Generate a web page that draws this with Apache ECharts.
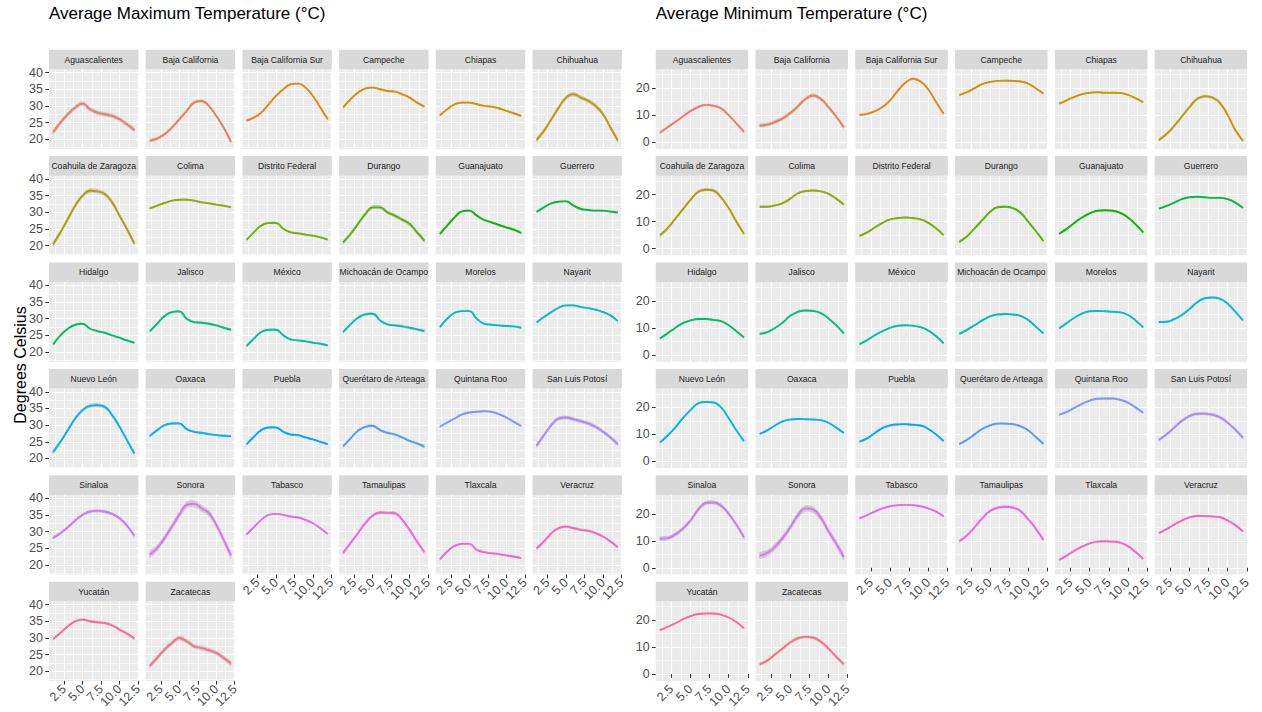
<!DOCTYPE html>
<html><head><meta charset="utf-8">
<script src="https://cdn.jsdelivr.net/npm/echarts@6/dist/echarts.min.js"></script>
<style>html,body{margin:0;padding:0;background:#fff}#c{width:1262px;height:712px}</style>
</head><body><div id="c"></div>
<script>
const states = ['Aguascalientes','Baja California','Baja California Sur','Campeche','Chiapas','Chihuahua',
 'Coahuila de Zaragoza','Colima','Distrito Federal','Durango','Guanajuato','Guerrero',
 'Hidalgo','Jalisco','México','Michoacán de Ocampo','Morelos','Nayarit',
 'Nuevo León','Oaxaca','Puebla','Querétaro de Arteaga','Quintana Roo','San Luis Potosí',
 'Sinaloa','Sonora','Tabasco','Tamaulipas','Tlaxcala','Veracruz',
 'Yucatán','Zacatecas'];
const months = [1,2,3,4,5,6,7,8,9,10,11,12];
const xTicks = [2.5,5,7.5,10,12.5];
const xMinorTicks = [1.25,3.75,6.25,8.75,11.25];
const maxYTicks = [20,25,30,35,40];
const maxYMinor = [17.5,22.5,27.5,32.5,37.5];
const minYTicks = [0,10,20];
const minYMinor = [5,15,25];

const maxTemps = [
 [22.1,25,27.5,29.5,30.7,29,28,27.5,27,26,24.5,22.8],
 [19.6,20.2,21.5,23.5,26,28.5,31,31.5,30,27,23.5,19.2],
 [25.6,26.5,28,30.5,33,35,36.5,36.7,35.5,33,29.5,26],
 [29.6,32,34,35.2,35.5,35,34.5,34.3,33.5,32.5,31,29.8],
 [27.2,29,30.5,31,31,30.5,30,29.8,29.3,28.5,27.8,27],
 [19.8,22.5,26,29.5,32.5,33.5,32.5,31.5,30,27.5,23.5,19.6],
 [20.4,24,28,32,35,36.5,36.3,35.5,33,29,25,20.6],
 [31.2,32,32.8,33.5,33.8,33.8,33.5,33,32.7,32.3,32,31.5],
 [21.7,24,26,26.8,26.8,25,24,23.7,23.3,23,22.5,21.8],
 [21,23.5,26.5,29.5,31.5,31.5,30,29,27.8,26.5,24,21.5],
 [23.5,26,28.5,30.3,30.5,29,27.7,27,26.2,25.5,24.8,23.8],
 [30.1,31.5,32.7,33.2,33.3,32,31,30.7,30.5,30.5,30.2,30],
 [22.3,25,27,28.2,28.5,27,26.3,25.8,25,24.3,23.5,22.8],
 [26.2,28.5,30.8,32,32.2,30,29,28.8,28.5,28,27.3,26.7],
 [21.8,24,26,26.7,26.7,25,23.8,23.5,23.2,22.8,22.5,22],
 [26,28.3,30.3,31.3,31.5,29.5,28.3,28,27.7,27.3,26.8,26.3],
 [27.5,30,31.8,32.3,32.3,30,28.5,28.2,28,27.8,27.7,27.3],
 [28.9,30.5,32,33.3,34,34,33.5,33.2,32.7,32,31,29.3],
 [21.9,25,28.5,32,34.5,35.8,36,35.5,33,29.5,25.5,21.5],
 [26.7,28.5,30,30.5,30.5,28.8,28,27.7,27.3,27,26.8,26.7],
 [24.2,26.5,28.5,29.3,29.3,28,27.2,27,26.3,25.7,25,24.3],
 [23.6,26,28.3,29.5,29.8,28.5,27.7,27.2,26.3,25.3,24.5,23.5],
 [29.5,30.8,32,33.2,33.8,34,34.2,34,33.3,32.3,31,29.8],
 [23.8,27,30,32,32.3,31.8,31.2,30.5,29.5,28,26.3,24.3],
 [28.1,29.5,31.3,33.3,35,36,36.2,36,35.3,34,31.8,28.7],
 [23.1,25,28,31.5,35,38,38.3,37,35.5,32,27.5,22.8],
 [29.1,31.3,33.5,35,35.3,35,34.5,34.2,33.5,32.5,31,29.3],
 [23.6,26.5,29.5,32.5,34.8,35.7,35.6,35.5,33.5,30.5,27,23.8],
 [21.6,24,25.7,26.3,26.3,24.5,23.8,23.5,23.2,22.8,22.5,22],
 [24.9,27,29.5,31,31.5,31,30.5,30.2,29.5,28.5,27,25.3],
 [29.7,31.5,33.5,35,35.5,35,34.7,34.5,33.8,32.5,31.3,29.8],
 [21.6,24,26.5,28.5,30,29,27.5,27,26.3,25.5,24,22.3]
];
const minTemps = [
 [3.5,5.5,7.5,9.5,11.5,13,13.8,13.5,12.5,10,7,3.8],
 [6.1,6.5,7.5,8.8,10.8,13.3,16,17.3,16,13,9.5,5.5],
 [10.1,10.5,11.5,13,15.5,19,22,23.5,22.5,19.5,15,10.5],
 [17.4,18.5,20,21.5,22.3,22.7,22.8,22.7,22.5,21.7,20,18],
 [14.3,15.5,16.8,17.8,18.3,18.5,18.3,18.3,18.2,17.5,16.3,14.8],
 [0.8,3,6,9.5,13,16,17,16.5,14.5,10,4.5,0.5],
 [4.9,7.5,11,14.5,18,21,21.8,21.5,19,15,10,5.5],
 [15.5,15.5,16,16.8,18.5,20.5,21.3,21.5,21.2,20.3,18.5,16.3],
 [4.7,6,7.8,9.5,10.8,11.3,11.5,11.3,10.8,9.5,7.5,5],
 [2.5,4.5,7.5,10.5,13.5,15.3,15.5,15,13.3,10,6.5,2.8],
 [5.5,7.3,9.5,11.5,13,14,14.2,14,13.2,11.5,9,6],
 [14.8,15.8,17,18.3,19,19.2,19,18.8,18.8,18.3,17,15],
 [6.1,8,10,11.8,12.8,13.3,13.3,13,12.5,11,8.8,6.5],
 [7.8,8.5,10,12,14.5,16,16.5,16.3,15.5,13.5,11,8],
 [4,5.5,7.3,8.8,10,10.8,11,10.8,10.3,9,7,4.3],
 [7.8,9.3,11,12.8,14.3,15,15.2,15,14.5,13,10.5,8],
 [9.8,11.8,13.8,15.3,16.2,16.3,16.2,16,15.8,14.8,12.8,10.2],
 [12.2,12.3,13.3,14.8,17,19.5,21,21.3,20.8,19,16,12.8],
 [7,9.5,12.5,16,19,21.5,22,21.8,20,16,11.5,7.5],
 [10.2,11.5,13.3,14.8,15.5,15.7,15.6,15.5,15.3,14.3,12.5,10.5],
 [7.3,8.5,10.5,12.3,13.3,13.7,13.8,13.5,13.3,12,10,7.5],
 [6.4,8,10,12,13.3,14,14,13.8,13,11.5,9,6.5],
 [17.3,18.3,19.8,21.3,22.5,23.2,23.3,23.3,22.8,21.8,20,18],
 [8,10,12.5,15,16.8,17.6,17.7,17.3,16.3,14.3,11.8,8.7],
 [10.8,11,12.3,14.5,17.5,21.5,24,24.2,23,20,16,11.3],
 [4.5,5.5,7.8,11,15,19.5,22,21.5,18.5,13.5,9,4],
 [18.3,19.5,20.8,22,22.8,23.2,23.3,23.2,22.8,22,20.8,19],
 [9.8,12,15,18.3,21,22.3,22.6,22.3,21,18,14.5,10.3],
 [2.9,4.5,6.3,7.8,9,9.7,9.8,9.7,9.3,8,5.8,3.3],
 [12.8,14.3,16,17.5,18.7,19.2,19.2,19,18.7,17.5,15.8,13.5],
 [16.3,17.5,18.8,20.3,21.5,22.3,22.5,22.5,22,21,19.3,17],
 [3.7,5,7.3,9.5,11.8,13.3,13.8,13.5,12,9.5,6.5,3.7]
];
// half-width of the grey confidence ribbon, per state
const maxSE = [0.7,0.5,0.3,0.3,0.3,0.7, 0.7,0.3,0.3,0.6,0.4,0.3, 0.3,0.4,0.3,0.4,0.3,0.3,
               0.6,0.3,0.3,0.4,0.3,0.6, 0.5,1.0,0.3,0.5,0.3,0.4, 0.4,0.7];
const minSE = [0.4,0.7,0.4,0.3,0.3,0.6, 0.6,0.4,0.3,0.5,0.4,0.3, 0.3,0.4,0.3,0.4,0.3,0.4,
               0.4,0.3,0.4,0.4,0.4,0.6, 0.8,1.2,0.3,0.5,0.4,0.3, 0.3,0.6];

const titles = ['Average Maximum Temperature (°C)','Average Minimum Temperature (°C)'];
const yAxisTitle = 'Degrees Celsius';

// ggplot2 hue palette
function hcl(h, c, l) {
  const hr = h * Math.PI / 180;
  const U = c * Math.cos(hr), V = c * Math.sin(hr);
  const Xn = 95.047, Yn = 100, Zn = 108.883;
  const Y = l > 8 ? Yn * Math.pow((l + 16) / 116, 3) : Yn * l / 903.3;
  const t = Xn + 15 * Yn + 3 * Zn;
  const un = 4 * Xn / t, vn = 9 * Yn / t;
  const up = U / (13 * l) + un, vp = V / (13 * l) + vn;
  const X = Y * 9 * up / (4 * vp);
  const Z = Y * (12 - 3 * up - 20 * vp) / (4 * vp);
  const x = X / 100, y = Y / 100, z = Z / 100;
  const lin = [3.240479 * x - 1.537150 * y - 0.498535 * z,
              -0.969256 * x + 1.875992 * y + 0.041556 * z,
               0.055648 * x - 0.204043 * y + 1.057311 * z];
  return '#' + lin.map(v => {
    v = v <= 0.0031308 ? 12.92 * v : 1.055 * Math.pow(v, 1 / 2.4) - 0.055;
    v = Math.max(0, Math.min(1, v));
    return Math.round(v * 255).toString(16).padStart(2, '0');
  }).join('');
}
const colors = states.map((s, i) => hcl(15 + i * 360 / 32, 100, 65));

const FONT = 'Liberation Sans, Arial, sans-serif';
const layout = [
  {data: maxTemps, se: maxSE, x0: 49, pitch: 96.7, w: 89.4, ymin: 17.1, ymax: 41, ticks: maxYTicks, minor: maxYMinor},
  {data: minTemps, se: minSE, x0: 655.7, pitch: 99.8, w: 92.5, ymin: -2.5, ymax: 27, ticks: minYTicks, minor: minYMinor}
];
const stripTop0 = 49.7, rowPitch = 106.4, stripH = 19.6, panelH = 79.6;

function ribbonItem(params, api) {
  if (params.dataIndex !== 0) return null;
  const n = params.dataInsideLength;
  const up = [], lo = [];
  for (let i = 0; i < n; i++) {
    up.push(api.coord([api.value(0, i), api.value(2, i)]));
    lo.push(api.coord([api.value(0, i), api.value(1, i)]));
  }
  return {type: 'polygon', silent: true,
    shape: {points: up.concat(lo.reverse()), smooth: 0.3},
    style: {fill: 'rgba(153,153,153,0.4)', stroke: null}};
}

const grid = [], xAxis = [], yAxis = [], series = [], graphic = [];
layout.forEach((L, ci) => {
  states.forEach((name, k) => {
    const r = Math.floor(k / 6), col = k % 6;
    const left = L.x0 + col * L.pitch;
    const stripTop = stripTop0 + r * rowPitch;
    const top = stripTop + stripH;
    const isBottom = k >= states.length - 6;
    const isLeft = col === 0;
    const g = grid.length;
    grid.push({left: left, top: top, width: L.w, height: panelH, show: true,
      backgroundColor: '#ebebeb', borderWidth: 0});
    graphic.push({type: 'rect', silent: true, shape: {x: left, y: stripTop, width: L.w, height: stripH},
      style: {fill: '#d9d9d9'}});
    graphic.push({type: 'text', silent: true, x: left + L.w / 2, y: stripTop + stripH / 2,
      style: {text: name, fill: '#1a1a1a', font: '8.6px ' + FONT, align: 'center', verticalAlign: 'middle'}});
    xAxis.push({type: 'value', gridIndex: g, min: 0.45, max: 12.55, position: 'bottom',
      axisLine: {show: false},
      axisTick: {show: isBottom, customValues: xTicks, length: 3.7, lineStyle: {color: '#333333', width: 1}},
      axisLabel: {show: isBottom, customValues: xTicks, rotate: 45, margin: 6, fontSize: 12.5,
        color: '#4d4d4d', fontFamily: FONT, formatter: v => Number(v).toFixed(1)},
      splitLine: {show: true, lineStyle: {color: '#ffffff', width: 1.2}}});
    xAxis.push({type: 'value', gridIndex: g, min: 0.45, max: 12.55, position: 'top',
      axisLine: {show: false}, axisLabel: {show: false},
      axisTick: {show: false, customValues: xMinorTicks},
      splitLine: {show: true, lineStyle: {color: '#ffffff', width: 0.6}}});
    yAxis.push({type: 'value', gridIndex: g, min: L.ymin, max: L.ymax, position: 'left',
      axisLine: {show: false},
      axisTick: {show: isLeft, customValues: L.ticks, length: 3.7, lineStyle: {color: '#333333', width: 1}},
      axisLabel: {show: isLeft, customValues: L.ticks, margin: 6, fontSize: 12.5, color: '#4d4d4d', fontFamily: FONT},
      splitLine: {show: true, lineStyle: {color: '#ffffff', width: 1.2}}});
    yAxis.push({type: 'value', gridIndex: g, min: L.ymin, max: L.ymax, position: 'right',
      axisLine: {show: false}, axisLabel: {show: false},
      axisTick: {show: false, customValues: L.minor},
      splitLine: {show: true, lineStyle: {color: '#ffffff', width: 0.6}}});
    const vals = L.data[k], se = L.se[k];
    const xi = 2 * g, yi = 2 * g;
    series.push({type: 'custom', xAxisIndex: xi, yAxisIndex: yi, silent: true, z: 2, clip: true,
      renderItem: ribbonItem,
      data: months.map((m, i) => [m, vals[i] - se, vals[i] + se])});
    series.push({type: 'line', xAxisIndex: xi, yAxisIndex: yi, smooth: true, symbol: 'none', z: 3,
      lineStyle: {color: colors[k], width: 1.9},
      data: months.map((m, i) => [m, vals[i]])});
  });
});

graphic.push({type: 'text', silent: true, x: 20, y: 365, rotation: Math.PI / 2,
  style: {text: yAxisTitle, fill: '#000000', font: '16px ' + FONT, align: 'center', verticalAlign: 'middle'}});

const chart = echarts.init(document.getElementById('c'), null, {renderer: 'svg'});
chart.setOption({
  animation: false,
  backgroundColor: '#ffffff',
  title: titles.map((t, i) => ({text: t, left: layout[i].x0, top: 5, padding: 0,
    textStyle: {fontSize: 17, fontWeight: 'normal', color: '#000000', fontFamily: FONT}})),
  grid: grid, xAxis: xAxis, yAxis: yAxis, series: series, graphic: graphic
});
</script></body></html>
